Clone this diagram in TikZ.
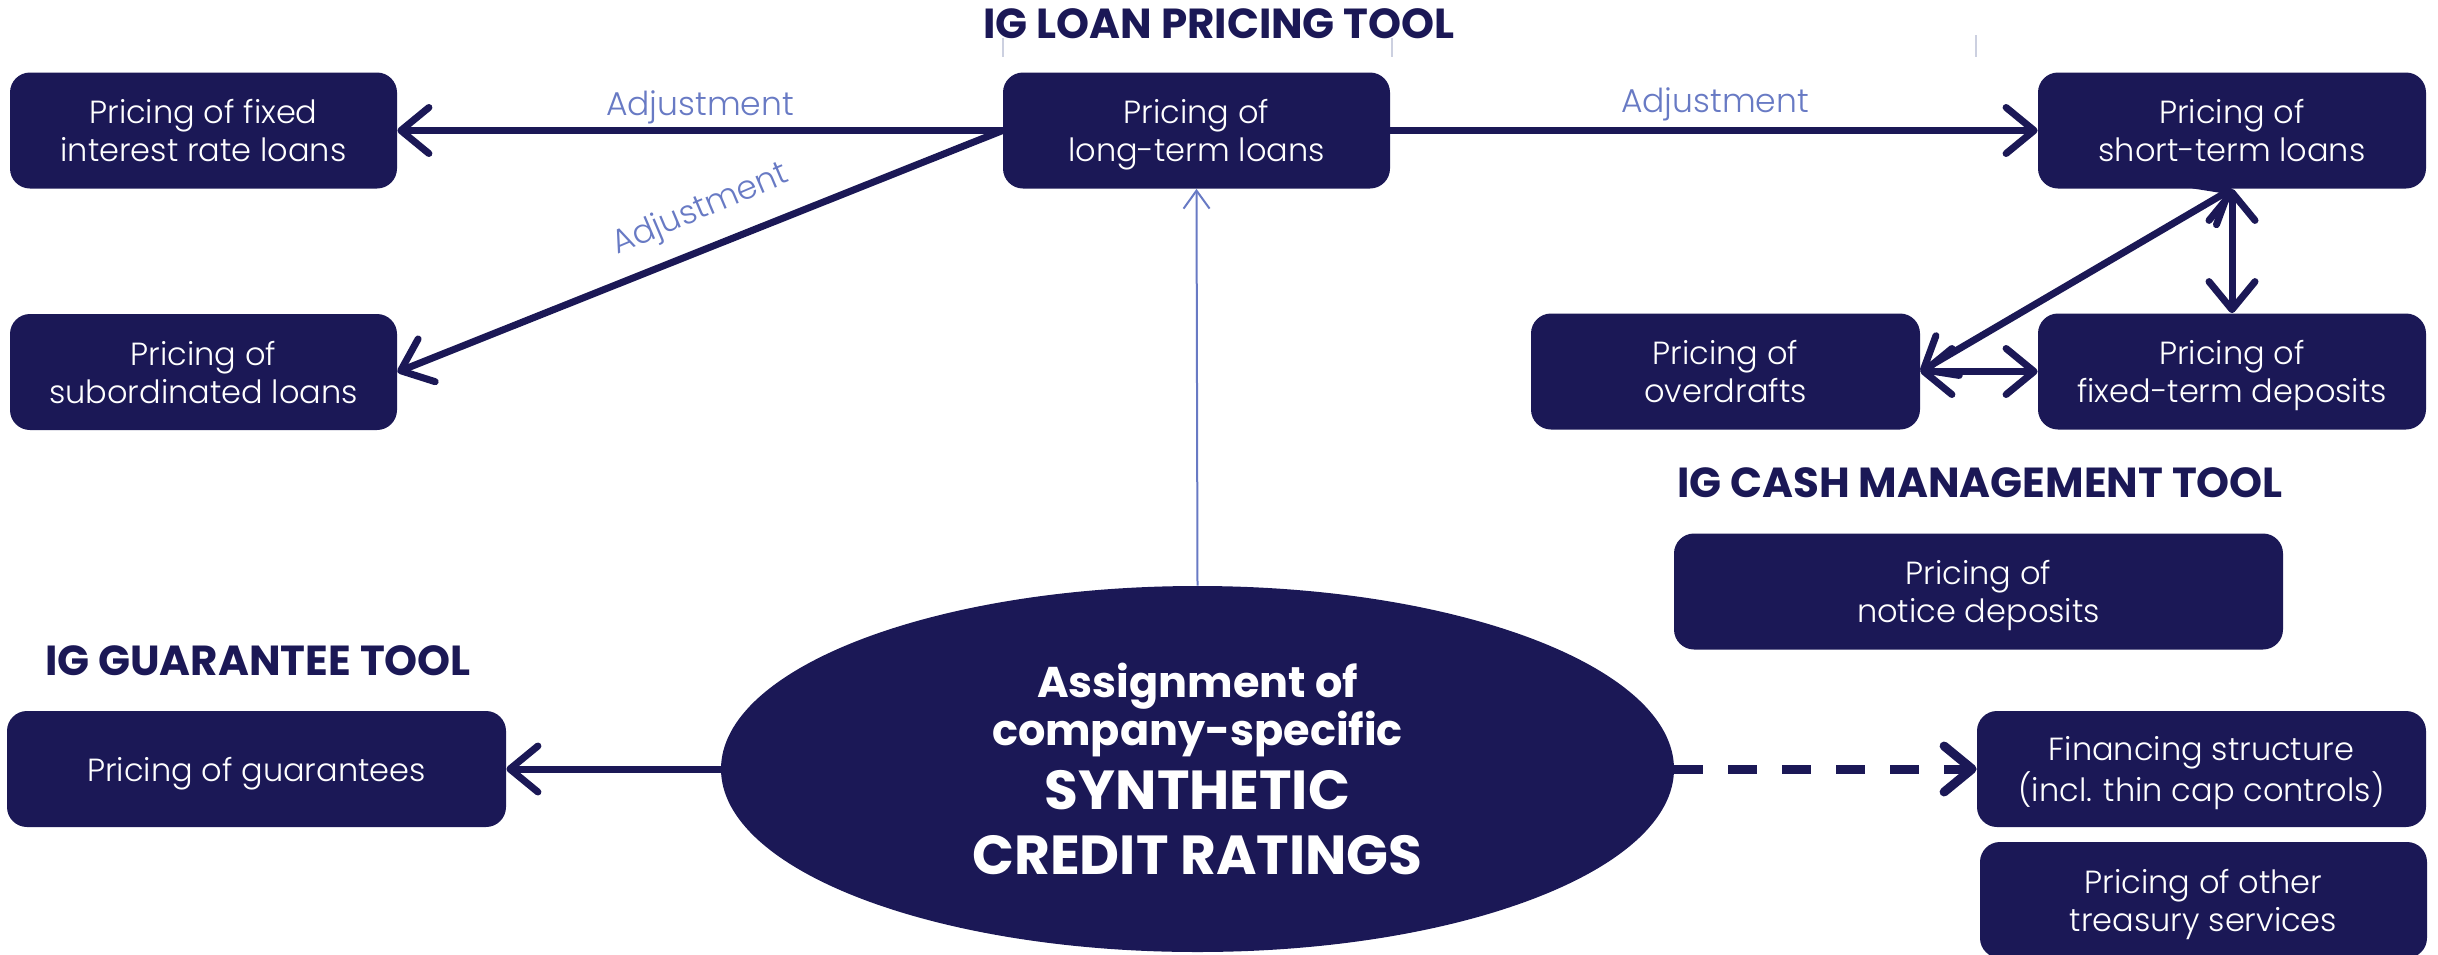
\documentclass[tikz,border=0pt]{standalone}
\usepackage{fontspec}
\setmainfont{Poppins}[UprightFont=* Light, BoldFont=* Bold]
\usepackage{xcolor}
\usetikzlibrary{shapes.geometric,arrows.meta}
\definecolor{NavyInk}{RGB}{27,24,86}
\definecolor{AdjBlue}{RGB}{104,122,196}
\definecolor{TickGray}{RGB}{204,208,224}
% rows of the ellipse text keep their baselineskip
\protected\def\tightrows{\lineskiplimit=-100pt\relax}

\begin{document}
\begin{tikzpicture}[x=0.5pt,y=0.5pt,yscale=-1,xscale=1,
	pricebox/.style={rectangle,rounded corners=10pt,fill=NavyInk,text=white,align=center,inner sep=0pt,
		minimum width=193.5pt,minimum height=58pt,text depth=0pt,font=\fontsize{16}{19}\selectfont},
	tooltitle/.style={anchor=base,text=NavyInk,font=\fontsize{21}{24}\selectfont\bfseries},
	adjlabel/.style={anchor=base,text=AdjBlue,font=\fontsize{16.5}{19}\selectfont},
	flow/.style={draw=NavyInk,line width=3.5pt,-{Straight Barb[round,length=14pt,width=23pt]}},
	twoway/.style={draw=NavyInk,line width=3.5pt,{Straight Barb[round,length=14pt,width=23pt]}-{Straight Barb[round,length=14pt,width=23pt]}},
	thinflow/.style={draw=AdjBlue,line width=1pt,-{Straight Barb[length=9pt,width=13pt]}},
	tick/.style={draw=TickGray,line width=0.6pt}]

	\useasboundingbox (0,0) rectangle (2438,954);

	% Tool headings
	\node (loantitle) [tooltitle] at (1219,38) {IG LOAN PRICING TOOL};
	\node (cashtitle) [tooltitle] at (1980,497) {IG CASH MANAGEMENT TOOL};
	\node (guaranteetitle) [tooltitle] at (258,675) {IG GUARANTEE TOOL};

	%Straight Lines
	\draw [tick] (1003,38) -- (1003,57) ;
	\draw [tick] (1392,38) -- (1392,57) ;
	\draw [tick] (1976,35) -- (1976,57) ;

	%Rounded Rect: loan pricing
	\node (fixedloans) [pricebox] at (203.5,130.5) {Pricing of fixed\\interest rate loans};
	\node (longloans) [pricebox] at (1196.5,130.5) {Pricing of\\long-term loans};
	\node (subloans) [pricebox] at (203.5,372) {Pricing of\\subordinated loans};
	\node (shortloans) [pricebox,minimum width=194pt] at (2232,130.5) {Pricing of\\short-term loans};

	%Rounded Rect: cash management
	\node (overdrafts) [pricebox,minimum width=194.5pt] at (1725.5,371.5) {Pricing of\\overdrafts};
	\node (termdeposits) [pricebox,minimum width=194pt] at (2232,371.5) {Pricing of\\fixed-term deposits};
	\node (noticedeposits) [pricebox,minimum width=304.5pt] at (1978.5,591.5) {Pricing of\\notice deposits};

	%Rounded Rect: guarantees and treasury
	\node (guarantees) [pricebox,minimum width=249.5pt] at (256.5,769) {Pricing of guarantees};
	\node (financing) [pricebox,minimum width=224.5pt] at (2201.5,769) {Financing structure\\(incl. thin cap controls)};
	\node (treasury) [pricebox,minimum width=223.5pt] at (2203.5,900) {Pricing of other\\treasury services};

	%Shape: Ellipse
	\node (rating) [ellipse,fill=NavyInk,text=white,align=center,inner sep=0pt,
		minimum width=476.5pt,minimum height=183pt,
		font=\bfseries\fontsize{21.5}{24}\selectfont\tightrows] at (1197.5,769)
		{Assignment of\\company-specific\\[8pt]
		\fontsize{27.5}{32}\selectfont SYNTHETIC\\[8.5pt]
		\fontsize{27.5}{32}\selectfont CREDIT RATINGS};

	% Text Node
	\node (adjfixed) [adjlabel] at (700,115) {Adjustment};
	\node (adjshort) [adjlabel] at (1715,112) {Adjustment};
	\node (adjsub) [adjlabel,rotate=23] at (704,218) {Adjustment};

	%Arrows
	\draw [flow] (longloans) -- (fixedloans) ;
	\draw [flow] (longloans.west) -- (subloans.east) ;
	\draw [flow] (longloans) -- (shortloans) ;
	\draw [twoway] (overdrafts.east) -- (shortloans.south) ;
	\draw [twoway] (shortloans) -- (termdeposits) ;
	\draw [twoway] (overdrafts) -- (termdeposits) ;
	\draw [thinflow] (rating.north) -- (longloans.south) ;
	\draw [flow] (rating) -- (guarantees) ;
	\draw [flow,line width=4.5pt,dash pattern=on 14.5pt off 12.5pt] (rating) -- (financing) ;

\end{tikzpicture}
\end{document}
